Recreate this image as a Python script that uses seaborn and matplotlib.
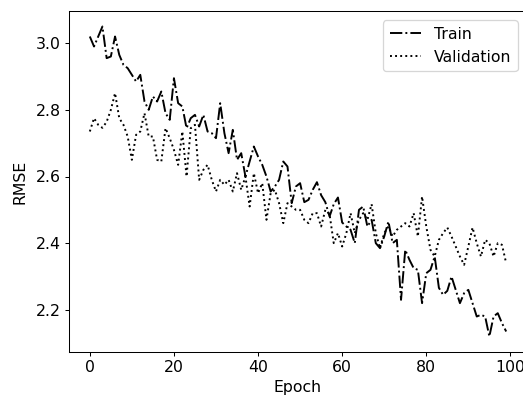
import numpy as np
import pandas as pd
import matplotlib
matplotlib.use("Agg")
import matplotlib.pyplot as plt
import seaborn as sns

# RMSE per epoch
train_rmse = [
    3.02, 2.99, 3.02, 3.05, 2.955, 2.96, 3.02, 2.965, 2.935, 2.925,
    2.905, 2.885, 2.905, 2.825, 2.80, 2.84, 2.825, 2.855, 2.79, 2.77,
    2.895, 2.82, 2.81, 2.745, 2.775, 2.785, 2.75, 2.785, 2.735, 2.73,
    2.715, 2.82, 2.73, 2.67, 2.74, 2.65, 2.67, 2.60, 2.645, 2.69,
    2.66, 2.635, 2.60, 2.555, 2.57, 2.59, 2.645, 2.63, 2.52, 2.57,
    2.58, 2.523, 2.53, 2.56, 2.583, 2.544, 2.523, 2.48, 2.517, 2.537,
    2.462, 2.45, 2.44, 2.40, 2.50, 2.51, 2.45, 2.47, 2.40, 2.385,
    2.42, 2.465, 2.40, 2.41, 2.23, 2.38, 2.35, 2.325, 2.32, 2.22,
    2.31, 2.32, 2.36, 2.266, 2.245, 2.257, 2.30, 2.26, 2.22, 2.25,
    2.26, 2.22, 2.18, 2.185, 2.18, 2.12, 2.18, 2.19, 2.16, 2.135,
]
val_rmse = [
    2.735, 2.775, 2.755, 2.746, 2.764, 2.80, 2.85, 2.775, 2.755, 2.72,
    2.65, 2.725, 2.735, 2.79, 2.72, 2.72, 2.65, 2.645, 2.745, 2.715,
    2.68, 2.635, 2.735, 2.60, 2.745, 2.755, 2.59, 2.62, 2.635, 2.59,
    2.555, 2.59, 2.575, 2.59, 2.555, 2.61, 2.56, 2.60, 2.51, 2.61,
    2.55, 2.58, 2.47, 2.55, 2.56, 2.52, 2.46, 2.52, 2.51, 2.50,
    2.50, 2.47, 2.46, 2.49, 2.49, 2.45, 2.50, 2.487, 2.40, 2.43,
    2.39, 2.43, 2.49, 2.43, 2.47, 2.49, 2.47, 2.517, 2.43, 2.385,
    2.43, 2.45, 2.42, 2.44, 2.45, 2.46, 2.45, 2.49, 2.42, 2.54,
    2.45, 2.38, 2.36, 2.41, 2.43, 2.447, 2.42, 2.39, 2.36, 2.335,
    2.39, 2.447, 2.40, 2.36, 2.41, 2.40, 2.36, 2.40, 2.395, 2.34,
]
epochs = np.arange(len(train_rmse))

df = pd.DataFrame({"Epoch": epochs, "Train": train_rmse, "Validation": val_rmse})

plt.rcParams["font.size"] = 12.3

# original was a bigger figure scaled down and cropped on the right
dpi = 92.3
fig = plt.figure(figsize=(523 / dpi, 398 / dpi), dpi=dpi)
ax = fig.add_axes([69 / 523, 46 / 398, 458 / 523, 341 / 398])

sns.lineplot(data=df, x="Epoch", y="Train", color="k", linestyle="-.", label="Train", ax=ax)
sns.lineplot(data=df, x="Epoch", y="Validation", color="k", linestyle=":", label="Validation", ax=ax)

ax.set_xlabel("Epoch", labelpad=4)
ax.set_ylabel("RMSE", labelpad=6)
ax.tick_params(pad=3)
ax.legend(loc="upper right", borderaxespad=0.6)

fig.savefig("out.png", dpi=dpi)
